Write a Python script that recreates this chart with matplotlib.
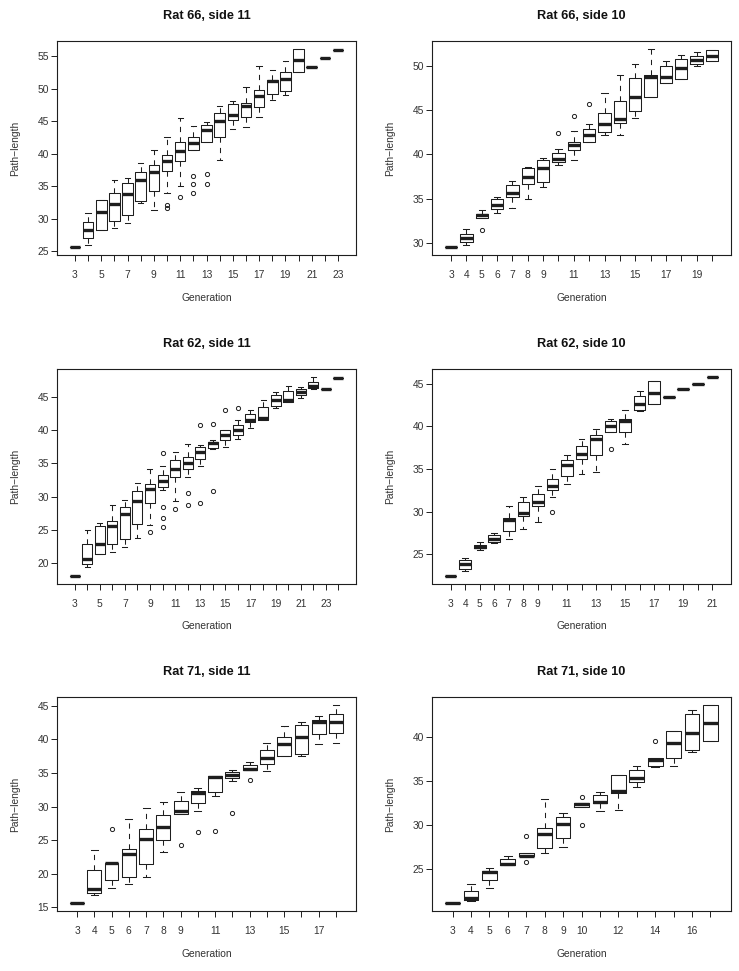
import numpy as np
import matplotlib
matplotlib.use('Agg')
import matplotlib.pyplot as plt
from matplotlib.ticker import MultipleLocator

plt.rcParams['font.family'] = ['Liberation Sans', 'DejaVu Sans']

INK = '#1e1e1e'

# ---- Rat 66, side 11 (generations 3..23) ----
r66s11_lo  = [25.6, 25.9, 28.2, 28.5, 29.3, 32.4, 31.3, 34.0, 35.0, 40.5, 41.8, 39.0, 43.8, 44.1, 45.6, 48.3, 49.0, 52.6, 53.3, 54.7, 56.0]
r66s11_q1  = [25.6, 27.0, 28.2, 29.6, 30.5, 32.7, 34.2, 37.4, 38.8, 40.5, 41.8, 42.6, 45.1, 45.6, 47.1, 49.1, 49.6, 52.6, 53.3, 54.7, 56.0]
r66s11_med = [25.6, 28.3, 31.1, 32.2, 33.8, 36.0, 37.1, 38.9, 40.4, 41.7, 43.6, 45.0, 45.9, 47.4, 48.8, 51.1, 51.4, 54.4, 53.3, 54.7, 56.0]
r66s11_q3  = [25.6, 29.5, 32.9, 34.0, 35.5, 37.2, 38.2, 39.8, 41.8, 42.6, 44.4, 46.2, 47.6, 47.8, 49.8, 51.3, 52.6, 56.1, 53.3, 54.7, 56.0]
r66s11_hi  = [25.6, 30.9, 32.9, 36.0, 36.3, 38.6, 40.5, 42.5, 45.5, 44.3, 44.9, 47.3, 48.1, 50.3, 53.4, 52.9, 54.3, 56.1, 53.3, 54.7, 56.0]
r66s11_out = {10: [31.7, 32.1], 11: [33.4], 12: [36.5, 35.4, 33.9], 13: [36.9, 35.4]}
r66s11_labels = [3, 5, 7, 9, 11, 13, 15, 17, 19, 21, 23]

# ---- Rat 66, side 10 (generations 3..20) ----
r66s10_lo  = [29.5, 29.7, 32.8, 33.4, 33.9, 34.9, 36.3, 38.8, 39.4, 41.4, 42.2, 42.2, 44.1, 46.5, 48.0, 48.5, 50.0, 50.5]
r66s10_q1  = [29.5, 30.1, 32.8, 33.8, 35.2, 36.6, 36.9, 39.1, 40.5, 41.4, 42.5, 43.5, 44.9, 46.5, 48.0, 48.5, 50.2, 50.5]
r66s10_med = [29.5, 30.5, 33.1, 34.3, 35.6, 37.4, 38.5, 39.5, 41.0, 42.2, 43.4, 44.0, 46.5, 48.7, 48.7, 49.7, 50.6, 51.1]
r66s10_q3  = [29.5, 31.0, 33.3, 35.0, 36.5, 38.4, 39.3, 40.2, 41.4, 42.9, 44.7, 46.0, 48.6, 49.0, 50.0, 50.8, 51.1, 51.8]
r66s10_hi  = [29.5, 31.6, 33.7, 35.2, 37.0, 38.6, 39.6, 40.6, 42.6, 43.4, 46.9, 49.0, 50.2, 51.9, 50.5, 51.2, 51.5, 51.8]
r66s10_out = {5: [31.4], 10: [42.4], 11: [44.3], 12: [45.7]}
r66s10_labels = [3, 4, 5, 6, 7, 8, 9, 11, 13, 15, 17, 19]

# ---- Rat 62, side 11 (generations 3..24) ----
r62s11_lo  = [18.1, 19.4, 21.3, 21.6, 22.4, 23.8, 25.7, 31.0, 29.3, 32.9, 34.6, 37.2, 37.5, 38.7, 40.4, 41.6, 43.3, 44.3, 44.9, 46.2, 46.25, 47.9]
r62s11_q1  = [18.1, 19.8, 21.3, 22.8, 23.6, 25.9, 29.0, 31.5, 33.0, 34.2, 35.6, 37.3, 38.5, 39.3, 41.3, 41.6, 43.7, 44.3, 45.3, 46.4, 46.25, 47.9]
r62s11_med = [18.1, 20.6, 22.8, 25.6, 27.4, 29.3, 31.1, 32.4, 34.1, 35.1, 36.7, 38.1, 39.3, 40.1, 41.6, 41.9, 44.5, 44.6, 45.8, 46.7, 46.25, 47.9]
r62s11_q3  = [18.1, 22.9, 25.6, 26.4, 28.4, 30.9, 31.9, 33.2, 35.5, 36.0, 37.5, 38.2, 40.1, 40.8, 42.4, 43.5, 45.3, 45.9, 46.2, 47.3, 46.25, 47.9]
r62s11_hi  = [18.1, 24.9, 26.1, 28.8, 29.5, 32.1, 34.2, 34.6, 36.7, 37.9, 37.8, 38.6, 40.1, 41.5, 43.1, 44.5, 45.7, 46.7, 46.6, 48.0, 46.25, 47.9]
r62s11_out = {9: [24.6], 10: [36.6, 28.5, 26.8, 25.4], 11: [28.1], 12: [30.6, 28.7],
              13: [40.8, 29.0], 14: [40.9, 30.8], 15: [43.1], 16: [43.3]}
r62s11_labels = [3, 5, 7, 9, 11, 13, 15, 17, 19, 21, 23]

# ---- Rat 62, side 10 (generations 3..21) ----
r62s10_lo  = [22.5, 23.0, 25.55, 26.3, 26.8, 28.0, 28.8, 31.75, 33.2, 34.4, 34.6, 39.3, 37.9, 41.8, 42.65, 43.47, 44.33, 45.0, 45.75]
r62s10_q1  = [22.5, 23.3, 25.7, 26.4, 27.75, 29.5, 30.7, 32.5, 34.2, 36.2, 36.6, 39.3, 39.3, 41.9, 42.65, 43.47, 44.33, 45.0, 45.75]
r62s10_med = [22.5, 23.8, 25.9, 26.8, 29.0, 29.8, 31.1, 33.0, 35.5, 36.8, 38.5, 40.0, 40.65, 42.6, 43.9, 43.47, 44.33, 45.0, 45.75]
r62s10_q3  = [22.5, 24.3, 26.1, 27.3, 29.2, 31.1, 32.1, 33.8, 36.1, 37.7, 39.0, 40.6, 40.8, 43.5, 45.3, 43.47, 44.33, 45.0, 45.75]
r62s10_hi  = [22.5, 24.6, 26.4, 27.5, 30.7, 31.7, 33.0, 35.0, 36.6, 38.5, 39.7, 40.8, 41.9, 44.1, 45.3, 43.47, 44.33, 45.0, 45.75]
r62s10_out = {10: [29.9], 14: [37.35]}
r62s10_labels = [3, 4, 5, 6, 7, 8, 9, 11, 13, 15, 17, 19, 21]

# ---- Rat 71, side 11 (generations 3..18) ----
r71s11_lo  = [15.6, 16.8, 17.9, 18.4, 19.55, 23.2, 28.9, 29.3, 31.6, 33.8, 35.5, 35.25, 37.5, 37.6, 39.3, 39.55]
r71s11_q1  = [15.6, 17.2, 19.1, 19.55, 21.5, 25.0, 28.9, 30.6, 32.2, 34.2, 35.5, 36.3, 37.5, 37.9, 40.8, 41.0]
r71s11_med = [15.6, 17.7, 21.6, 23.0, 25.15, 26.9, 29.3, 32.0, 34.4, 34.65, 35.6, 37.3, 39.4, 40.3, 42.6, 42.6]
r71s11_q3  = [15.6, 20.6, 21.6, 23.7, 26.6, 28.8, 30.8, 32.4, 34.5, 35.1, 36.2, 38.5, 40.35, 42.1, 42.9, 43.8]
r71s11_hi  = [15.6, 23.5, 21.6, 28.1, 29.85, 30.7, 32.2, 32.8, 34.5, 35.5, 36.6, 39.5, 42.0, 42.6, 43.5, 45.15]
r71s11_out = {5: [26.7], 9: [24.3], 10: [26.2], 11: [26.4], 12: [29.0], 13: [33.9]}
r71s11_labels = [3, 4, 5, 6, 7, 8, 9, 11, 13, 15, 17]

# ---- Rat 71, side 10 (generations 3..17) ----
r71s10_lo  = [21.16, 21.4, 22.9, 25.5, 26.5, 26.9, 27.5, 32.06, 31.6, 31.8, 34.4, 36.7, 36.8, 38.3, 39.6]
r71s10_q1  = [21.16, 21.5, 23.75, 25.5, 26.5, 27.4, 28.6, 32.06, 32.5, 33.7, 34.9, 36.8, 37.7, 38.6, 39.6]
r71s10_med = [21.16, 21.8, 24.7, 25.65, 26.56, 29.0, 30.2, 32.44, 32.7, 33.9, 35.4, 37.4, 39.4, 40.5, 41.6]
r71s10_q3  = [21.16, 22.6, 24.8, 26.2, 26.9, 29.7, 31.0, 32.5, 33.5, 35.7, 36.3, 37.65, 40.7, 42.7, 43.7]
r71s10_hi  = [21.16, 23.4, 25.15, 26.56, 26.9, 33.0, 31.4, 32.5, 33.85, 35.7, 36.8, 37.65, 40.7, 43.1, 43.7]
r71s10_out = {7: [28.8, 25.9], 10: [33.2, 30.1], 14: [39.6]}
r71s10_labels = [3, 4, 5, 6, 7, 8, 9, 10, 12, 14, 16]


def draw_panel(ax, title, lo, q1, med, q3, hi, out, labels, first_gen=3):
    n = len(med)
    gens = list(range(first_gen, first_gen + n))
    stats = []
    for i, g in enumerate(gens):
        stats.append(dict(whislo=lo[i], q1=q1[i], med=med[i], q3=q3[i],
                          whishi=hi[i], fliers=out.get(g, [])))
    pos = np.arange(1, n + 1)
    ax.bxp(stats, positions=pos, widths=0.8, capwidths=0.4, manage_ticks=False,
           boxprops=dict(color=INK, lw=0.75),
           whiskerprops=dict(color=INK, lw=0.75, linestyle=(0, (5, 5))),
           capprops=dict(color=INK, lw=0.75),
           medianprops=dict(color=INK, lw=2.4, solid_capstyle='butt'),
           flierprops=dict(marker='o', markerfacecolor='none', markeredgecolor=INK,
                           markersize=3.0, markeredgewidth=0.7))

    # R-like axis ranges: 4% extension on each side
    allv = lo + hi + [v for vs in out.values() for v in vs]
    ymin, ymax = min(allv), max(allv)
    pad = 0.04 * (ymax - ymin)
    ax.set_ylim(ymin - pad, ymax + pad)
    ax.set_xlim(0.5 - 0.04 * n, n + 0.5 + 0.04 * n)

    ax.set_xticks(pos)
    ax.set_xticklabels([str(g) if g in labels else '' for g in gens])
    ax.yaxis.set_major_locator(MultipleLocator(5))
    ax.tick_params(axis='x', length=4.5, width=0.7, color=INK, pad=6.5,
                   labelsize=7.4, labelcolor='#333333')
    ax.tick_params(axis='y', length=4.5, width=0.7, color=INK, pad=1.5,
                   labelsize=7.4, labelcolor='#333333')
    for s in ax.spines.values():
        s.set_color(INK)
        s.set_linewidth(0.8)

    ax.text(0.5, 1.117, title, transform=ax.transAxes, ha='center', va='center',
            fontsize=9.2, fontweight='bold', color='#111111')
    ax.text(0.5, -0.2, 'Generation', transform=ax.transAxes, ha='center',
            va='center', fontsize=7.4, color='#333333')
    ax.text(-0.142, 0.5, 'Path\u2212length', transform=ax.transAxes, ha='center',
            va='center', rotation=90, fontsize=7.4, color='#333333')


W, H = 739, 971
fig = plt.figure(figsize=(W / 100, H / 100), dpi=100)

col_left = [57.3, 432.3]
ax_w = 298.4
row_top = [41, 369.3, 697]
ax_h = 214.2


def make_ax(r, c):
    return fig.add_axes([col_left[c] / W, 1 - (row_top[r] + ax_h) / H, ax_w / W, ax_h / H])


draw_panel(make_ax(0, 0), 'Rat 66, side 11', r66s11_lo, r66s11_q1, r66s11_med, r66s11_q3, r66s11_hi, r66s11_out, r66s11_labels)
draw_panel(make_ax(0, 1), 'Rat 66, side 10', r66s10_lo, r66s10_q1, r66s10_med, r66s10_q3, r66s10_hi, r66s10_out, r66s10_labels)
draw_panel(make_ax(1, 0), 'Rat 62, side 11', r62s11_lo, r62s11_q1, r62s11_med, r62s11_q3, r62s11_hi, r62s11_out, r62s11_labels)
draw_panel(make_ax(1, 1), 'Rat 62, side 10', r62s10_lo, r62s10_q1, r62s10_med, r62s10_q3, r62s10_hi, r62s10_out, r62s10_labels)
draw_panel(make_ax(2, 0), 'Rat 71, side 11', r71s11_lo, r71s11_q1, r71s11_med, r71s11_q3, r71s11_hi, r71s11_out, r71s11_labels)
draw_panel(make_ax(2, 1), 'Rat 71, side 10', r71s10_lo, r71s10_q1, r71s10_med, r71s10_q3, r71s10_hi, r71s10_out, r71s10_labels)

fig.savefig('out.png', dpi=100)
